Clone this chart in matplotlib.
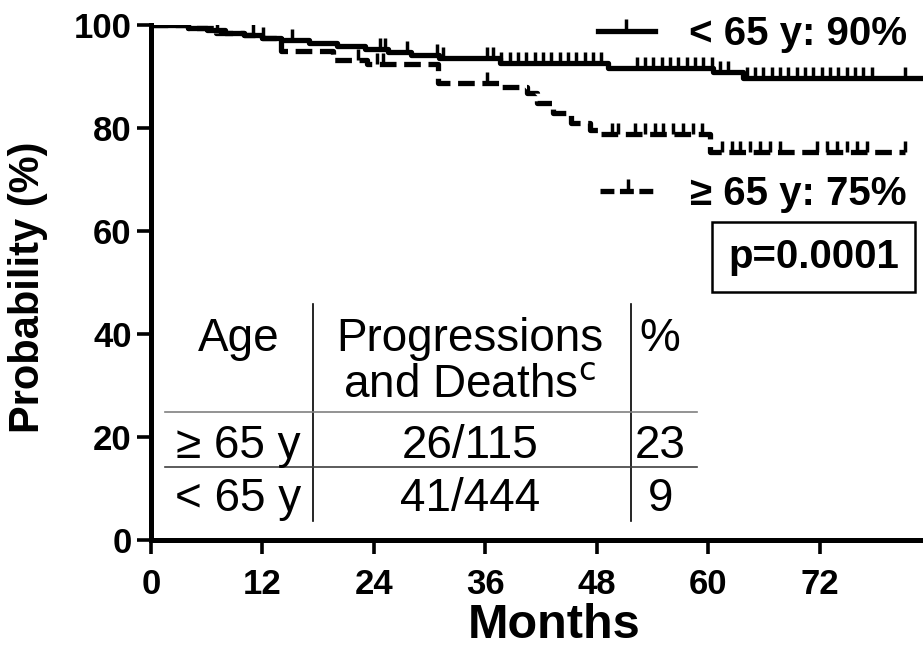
import matplotlib
matplotlib.use("Agg")
import matplotlib.pyplot as plt
import numpy as np
from matplotlib.lines import Line2D
from matplotlib.markers import TICKUP

plt.rcParams["font.family"] = ["Liberation Sans", "DejaVu Sans"]
plt.rcParams["lines.scale_dashes"] = False

# Kaplan-Meier steps (months, % progression-free)
young_t = [0, 4, 6, 8, 10, 12, 14, 17, 20, 23, 25.5, 28, 31, 37.6, 49.2, 60.5, 63.7, 84]
young_s = [100, 99.5, 99, 98.5, 98, 97.5, 97, 96.5, 96, 95.3, 94.7, 94.1, 93.5, 92.7, 91.6, 90.8, 89.7, 89.7]
young_cens = [2.0, 3.0, 7.1, 11.0, 12.1, 15.2, 24.7, 25.2, 27.6, 30.8, 31.4, 36.2,
              36.8, 37.7, 38.6, 39.5, 40.4, 41.3, 42.2, 43.1, 44.0, 44.9, 45.7, 46.7, 47.6, 48.4,
              52.3, 53.2, 54.0, 55.0, 55.9, 56.7, 57.7, 58.6, 59.4, 60.4, 61.2, 62.1,
              64.2, 65.0, 65.9, 66.8, 67.7, 68.6, 69.5, 70.4, 71.3, 72.2, 73.1, 74.0,
              74.9, 75.8, 76.6, 77.6, 81.2]

old_t = [0, 4, 7, 10, 12, 14, 19.6, 23.2, 30.9, 37.6, 40.5, 41.5, 43.3, 45.2, 47.3, 48.3, 60.2, 81.2]
old_s = [100, 99.5, 98.5, 98, 97.5, 95, 93.2, 92.5, 88.8, 88.0, 86.8, 84.8, 82.9, 81.0, 79.6, 78.8, 75.3, 75.3]
old_cens = [22.3, 24.3, 25.0, 36.2, 49.6, 50.3, 52.1, 53.2, 54.3, 55.1, 56.2, 57.3, 58.3, 59.3,
            61.5, 62.5, 63.4, 64.5, 65.6, 66.6, 67.7, 71.7, 72.8, 73.8, 74.9, 76.0, 77.1, 81.2]

x_ticks = [0, 12, 24, 36, 48, 60, 72]
y_ticks = [0, 20, 40, 60, 80, 100]

table_header = ["Age", "Progressions", "and Deaths$^{\\rm c}$", "%"]
table_age = ["≥ 65 y", "< 65 y"]
table_events = ["26/115", "41/444"]
table_pct = ["23", "9"]

legend_young = "< 65 y: 90%"
legend_old = "≥ 65 y: 75%"
p_text = "p=0.0001"


def step_value(times, surv, t):
    idx = np.searchsorted(times, t, side="right") - 1
    return np.asarray(surv)[idx]


fig = plt.figure(figsize=(9.23, 6.57), dpi=100)
ax = fig.add_axes([151 / 923, 117 / 657, 772 / 923, 515 / 657])

LW = 3.8
TICK = dict(ls="none", marker=TICKUP, ms=8, mew=2.5, color="black")
ax.step(young_t, young_s, where="post", color="black", lw=LW)
ax.step(old_t, old_s, where="post", color="black", lw=LW, dashes=(12, 5.5))
ax.plot(young_cens, step_value(young_t, young_s, young_cens), **TICK)
ax.plot(old_cens, step_value(old_t, old_s, old_cens), **TICK)

ax.set_xlim(0, 83.1)
ax.set_ylim(0, 100)
ax.set_xticks(x_ticks)
ax.set_yticks(y_ticks)
for spine in ["top", "right"]:
    ax.spines[spine].set_visible(False)
for spine in ["left", "bottom"]:
    ax.spines[spine].set_linewidth(3.6)
ax.tick_params(width=2.6, length=10, labelsize=25)
ax.tick_params(axis="x", pad=10)
ax.tick_params(axis="y", pad=4)
for lab in ax.get_xticklabels() + ax.get_yticklabels():
    lab.set_fontweight("bold")
ax.set_xlabel("Months", fontsize=35, fontweight="bold")
ax.set_ylabel("Probability (%)", fontsize=30, fontweight="bold")
ax.xaxis.set_label_coords(0.522, -0.122)
ax.yaxis.set_label_coords(-0.133, 0.49)

# legends, one per group
h_young = Line2D([], [], color="black", lw=LW, marker=TICKUP, ms=9, mew=2.5)
h_old = Line2D([], [], color="black", lw=LW, dashes=(10, 4), marker=TICKUP, ms=9, mew=2.5)
leg_kw = dict(loc="center right", frameon=False, handlelength=1.4, handletextpad=0.85,
              numpoints=1, borderaxespad=0, prop={"size": 29, "weight": "bold"})
leg1 = ax.legend([h_young], [legend_young], bbox_to_anchor=(1.0, 0.983), **leg_kw)
ax.add_artist(leg1)
ax.legend([h_old], [legend_old], bbox_to_anchor=(1.0, 0.672), **leg_kw)

ax.text(71.3, 55.0, p_text, ha="center", va="center", fontsize=29, fontweight="bold",
        bbox={"boxstyle": "square,pad=0.4", "facecolor": "white", "edgecolor": "black", "linewidth": 1.8})

# table in the lower left
col_x = [9.4, 34.3, 54.8]
ax.text(col_x[0], 39.1, table_header[0], ha="center", va="center", fontsize=33)
ax.text(col_x[1], 39.1, table_header[1], ha="center", va="center", fontsize=33)
ax.text(col_x[1], 30.0, table_header[2], ha="center", va="center", fontsize=33)
ax.text(col_x[2], 39.1, table_header[3], ha="center", va="center", fontsize=33)
for row, y in enumerate([18.3, 8.0]):
    ax.text(col_x[0], y, table_age[row], ha="center", va="center", fontsize=33)
    ax.text(col_x[1], y, table_events[row], ha="center", va="center", fontsize=33)
    ax.text(col_x[2], y, table_pct[row], ha="center", va="center", fontsize=33)
ax.plot([17.4, 17.4], [3.7, 45.9], color="black", lw=1.2)
ax.plot([51.7, 51.7], [3.7, 45.9], color="black", lw=1.2)
ax.plot([1.5, 58.8], [24.9, 24.9], color="#808080", lw=1.2)
ax.plot([1.5, 58.8], [14.2, 14.2], color="#404040", lw=1.2)

fig.savefig("out.png", dpi=100)
